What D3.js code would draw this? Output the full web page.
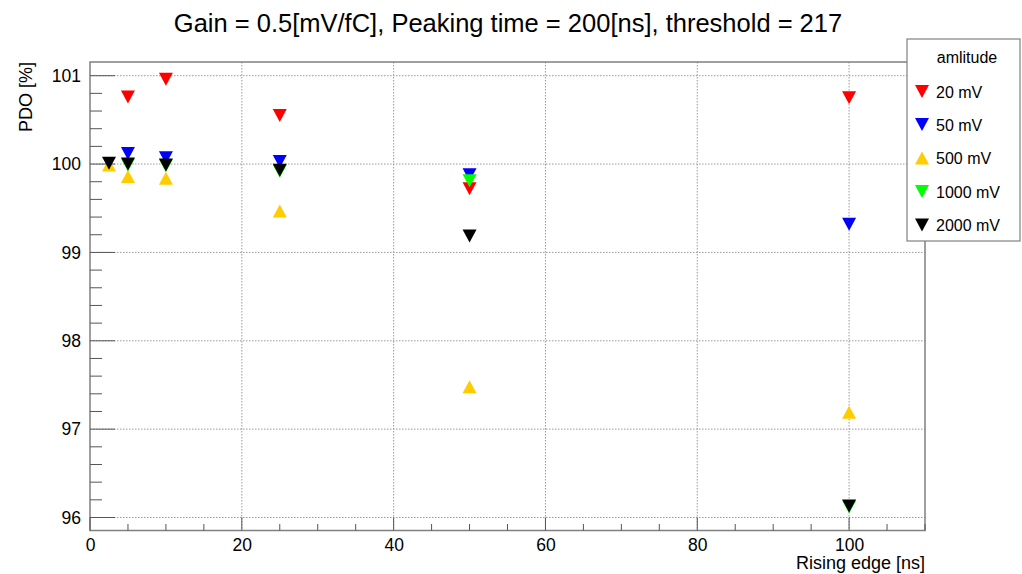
<!DOCTYPE html>
<html><head><meta charset="utf-8">
<script src="https://cdn.jsdelivr.net/npm/d3@7"></script>
<style>body{margin:0;background:#fff}svg{display:block;font-family:"Liberation Sans",Arial,sans-serif}</style>
</head><body>
<script>
const title = "Gain = 0.5[mV/fC], Peaking time = 200[ns], threshold = 217";
const xLabel = "Rising edge [ns]";
const yLabel = "PDO [%]";
const legendTitle = "amlitude";
const seriesNames = ["20 mV", "50 mV", "500 mV", "1000 mV", "2000 mV"];
const seriesColors = ["#ff0000", "#0000ff", "#ffcc00", "#00ff00", "#000000"];
const seriesShapes = ["down", "down", "up", "down", "down"];
const xTicks = [0, 20, 40, 60, 80, 100];
const yTicks = [96, 97, 98, 99, 100, 101];

const x20 = [5, 10, 25, 50, 100];
const y20 = [100.76, 100.96, 100.55, 99.72, 100.75];
const x50 = [5, 10, 25, 50, 100];
const y50 = [100.12, 100.07, 100.03, 99.88, 99.32];
const x500 = [2.5, 5, 10, 25, 50, 100];
const y500 = [99.99, 99.86, 99.84, 99.47, 97.48, 97.19];
const x1000 = [5, 10, 25, 50, 100];
const y1000 = [99.99, 99.98, 99.92, 99.81, 96.12];
const x2000 = [2.5, 5, 10, 25, 50, 100];
const y2000 = [100.01, 100.0, 99.99, 99.93, 99.185, 96.13];

const seriesX = [x20, x50, x500, x1000, x2000];
const seriesY = [y20, y50, y500, y1000, y2000];

const W = 1022, H = 574;
const L = 90, R = 925, T = 62, B = 530.5;
const svg = d3.select("body").append("svg").attr("width", W).attr("height", H);

const x = d3.scaleLinear().domain([0, 110]).range([L, R]);
const y = d3.scaleLinear().domain([95.853, 101.155]).range([B, T]);

// grid
const g = svg.append("g");
g.selectAll(".gx").data(xTicks.filter(d => d > 0)).join("line")
  .attr("x1", d => x(d)).attr("x2", d => x(d)).attr("y1", T).attr("y2", B)
  .attr("stroke", "#9a9a9a").attr("stroke-width", 1).attr("stroke-dasharray", "1.5,1.5");
g.selectAll(".gy").data(yTicks).join("line")
  .attr("x1", L).attr("x2", R).attr("y1", d => y(d)).attr("y2", d => y(d))
  .attr("stroke", "#9a9a9a").attr("stroke-width", 1).attr("stroke-dasharray", "1.5,1.5");

// frame
svg.append("rect").attr("x", L).attr("y", T).attr("width", R - L).attr("height", B - T)
  .attr("fill", "none").attr("stroke", "#808080").attr("stroke-width", 1.5);

// x axis
const xAxis = d3.axisBottom(x).tickValues(xTicks).tickSize(0).tickPadding(8).tickFormat(d3.format("d"));
const xa = svg.append("g").attr("transform", `translate(0,${B})`).call(xAxis);
xa.select(".domain").remove();
xa.selectAll("text").attr("font-size", 17.5).attr("fill", "#000").attr("font-family", "Liberation Sans, Arial, sans-serif");
const xMinor = d3.range(0, 110.1, 5);
svg.append("g").selectAll("line").data(xMinor).join("line")
  .attr("x1", d => x(d)).attr("x2", d => x(d)).attr("y1", B)
  .attr("y2", d => B - (d % 20 === 0 ? 13 : 6.5))
  .attr("stroke", "#555").attr("stroke-width", 1);

// y axis
const yAxis = d3.axisLeft(y).tickValues(yTicks).tickSize(0).tickPadding(9).tickFormat(d3.format("d"));
const ya = svg.append("g").attr("transform", `translate(${L},0)`).call(yAxis);
ya.select(".domain").remove();
ya.selectAll("text").attr("font-size", 17.5).attr("fill", "#000").attr("font-family", "Liberation Sans, Arial, sans-serif");
const yMinor = d3.range(96, 101.01, 0.2).map(v => Math.round(v * 10) / 10);
svg.append("g").selectAll("line").data(yMinor).join("line")
  .attr("x1", L).attr("y1", d => y(d)).attr("y2", d => y(d))
  .attr("x2", d => L + (Math.abs(d - Math.round(d)) < 1e-6 ? 25 : 12))
  .attr("stroke", "#555").attr("stroke-width", 1);

// labels
svg.append("text").attr("x", 508).attr("y", 32).attr("text-anchor", "middle")
  .attr("font-size", 25.5).text(title);
svg.append("text").attr("x", R).attr("y", 569).attr("text-anchor", "end")
  .attr("font-size", 18).text(xLabel);
svg.append("text").attr("transform", `translate(32,${T}) rotate(-90)`).attr("text-anchor", "end")
  .attr("font-size", 18).text(yLabel);

// markers
function tri(shape, cx, cy) {
  const w = 7, h = 6.5;
  if (shape === "down") return `M${cx - w},${cy - h}L${cx + w},${cy - h}L${cx},${cy + h}Z`;
  return `M${cx - w},${cy + h}L${cx + w},${cy + h}L${cx},${cy - h}Z`;
}
seriesNames.forEach((name, i) => {
  const pts = seriesX[i].map((xv, j) => [xv, seriesY[i][j]]);
  svg.append("g").selectAll("path").data(pts).join("path")
    .attr("d", d => tri(seriesShapes[i], x(d[0]), y(d[1])))
    .attr("fill", seriesColors[i]);
});

// legend
const lg = svg.append("g");
lg.append("rect").attr("x", 907).attr("y", 39).attr("width", 113).attr("height", 202)
  .attr("fill", "#fff").attr("stroke", "#808080").attr("stroke-width", 1.2);
lg.append("text").attr("x", 967).attr("y", 63).attr("text-anchor", "middle")
  .attr("font-size", 16).text(legendTitle);
const entryY = [91.5, 124.5, 158, 191.5, 225];
seriesNames.forEach((name, i) => {
  lg.append("path").attr("d", tri(seriesShapes[i], 922, entryY[i])).attr("fill", seriesColors[i]);
  lg.append("text").attr("x", 936).attr("y", entryY[i] + 6).attr("font-size", 16).text(name);
});
</script>
</body></html>
